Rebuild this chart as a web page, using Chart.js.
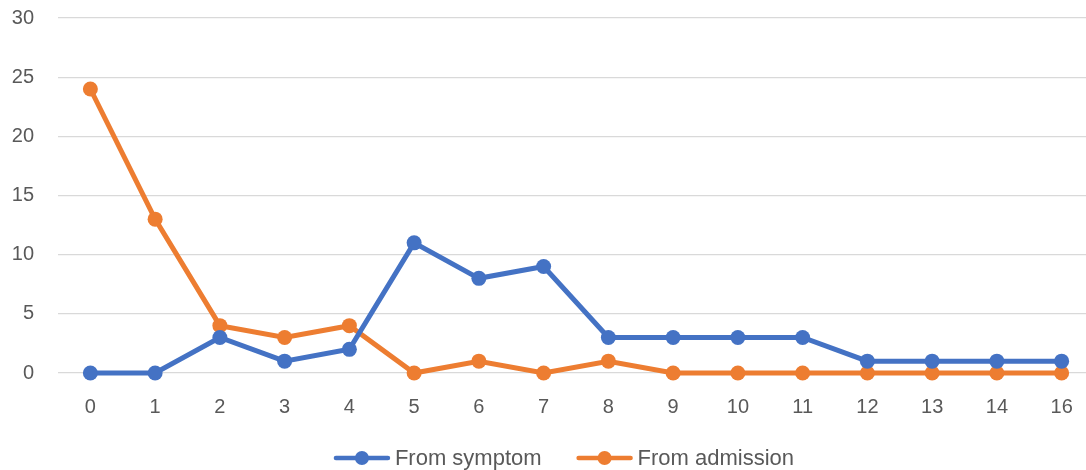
<!DOCTYPE html>
<html>
<head>
<meta charset="utf-8">
<script src="https://cdn.jsdelivr.net/npm/chart.js@4.4.1/dist/chart.umd.min.js"></script>
<style>
  html, body { margin: 0; padding: 0; background: #fff; overflow: hidden; }
  /* plot runs a little past the right edge of the picture, as in the original */
  #wrap { width: 1094px; height: 470px; }
</style>
</head>
<body>
<div id="wrap"><canvas id="mycanvas"></canvas></div>
<script>
// days
var days = ['0','1','2','3','4','5','6','7','8','9','10','11','12','13','14','16'];
var fromSymptom = [0, 0, 3, 1, 2, 11, 8, 9, 3, 3, 3, 3, 1, 1, 1, 1];
var fromAdmission = [24, 13, 4, 3, 4, 0, 1, 0, 1, 0, 0, 0, 0, 0, 0, 0];
var yTicks = [0, 5, 10, 15, 20, 25, 30];

var blue = '#4472C4';
var orange = '#ED7D31';
var txt = '#595959';
var fontFam = '"Liberation Sans", Arial, sans-serif';

function makeSet(label, values, color) {
    return {
        label: label,
        data: values,
        borderColor: color,
        backgroundColor: color,
        borderWidth: 5,
        pointRadius: 7.5,
        pointBorderWidth: 0,
        pointHoverRadius: 7.5,
        fill: false,
        tension: 0,
        clip: false
    };
}

var chartdata = {
    labels: days,
    datasets: [
        makeSet('From symptom', fromSymptom, blue),
        makeSet('From admission', fromAdmission, orange)
    ]
};

// legend drawn like the spreadsheet one: short line with a dot, then the name
var lineLegend = {
    id: 'lineLegend',
    afterDraw: function(chart) {
        var g = chart.ctx;
        var sets = chart.data.datasets;
        var iconW = 56, gapText = 5, gapItem = 35;
        g.save();
        g.font = '22px ' + fontFam;
        g.textBaseline = 'middle';
        var widths = sets.map(function(ds) { return g.measureText(ds.label).width; });
        var total = 0;
        widths.forEach(function(w, i) {
            total += iconW + gapText + w + (i < widths.length - 1 ? gapItem : 0);
        });
        var x = 564 - total / 2;
        var y = 458;
        sets.forEach(function(ds, i) {
            g.strokeStyle = ds.borderColor;
            g.lineWidth = 4.5;
            g.lineCap = 'round';
            g.beginPath();
            g.moveTo(x + 2, y);
            g.lineTo(x + iconW - 2, y);
            g.stroke();
            g.fillStyle = ds.borderColor;
            g.beginPath();
            g.arc(x + iconW / 2, y, 7, 0, Math.PI * 2);
            g.fill();
            g.fillStyle = txt;
            g.fillText(ds.label, x + iconW + gapText, y + 1);
            x += iconW + gapText + widths[i] + gapItem;
        });
        g.restore();
    }
};

var ctx = document.getElementById('mycanvas');

var lineGraph = new Chart(ctx, {
    type: 'line',
    data: chartdata,
    plugins: [lineLegend],
    options: {
        responsive: true,
        maintainAspectRatio: false,
        animation: false,
        layout: { autoPadding: false, padding: { top: 18, right: 0, bottom: 0, left: 0 } },
        scales: {
            x: {
                offset: true,
                grid: { display: false },
                border: { display: false },
                ticks: { color: txt, font: { family: fontFam, size: 20 }, padding: 14 },
                afterFit: function(scale) {
                    scale.height = 97;
                    scale.paddingLeft = 0;
                    scale.paddingRight = 0;
                }
            },
            y: {
                min: 0,
                max: 30,
                afterBuildTicks: function(scale) {
                    scale.ticks = yTicks.map(function(v) { return { value: v }; });
                },
                grid: { color: '#d9d9d9', lineWidth: 1.3, drawTicks: false },
                border: { display: false },
                ticks: { color: txt, font: { family: fontFam, size: 20 }, padding: 24 },
                afterFit: function(scale) {
                    scale.width = 58;
                    scale.paddingTop = 0;
                    scale.paddingBottom = 0;
                }
            }
        },
        plugins: {
            tooltip: { enabled: false },
            legend: { display: false }
        }
    }
});
</script>
</body>
</html>
